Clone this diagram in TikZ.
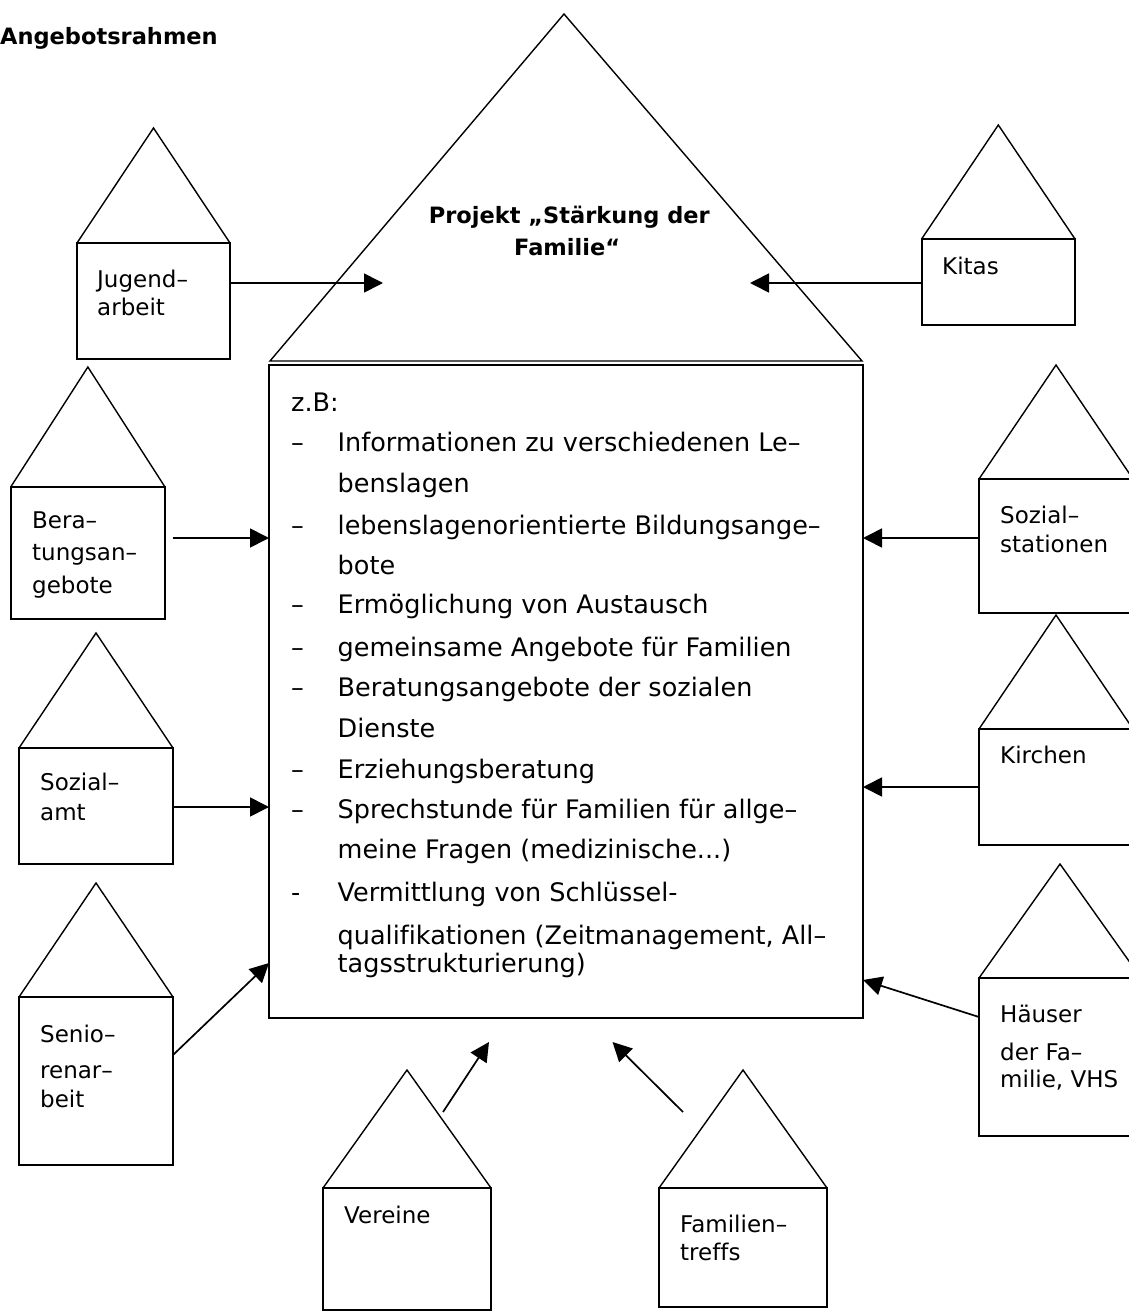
\documentclass[tikz,border=0pt]{standalone}
\usepackage{fontspec}
\setmainfont[Ligatures=NoCommon]{DejaVu Sans}
\usetikzlibrary{arrows.meta,calc}
\newcommand\myhouse[6]{%
  \node[hbox, anchor=north west, minimum width={(#3-#2)*1pt}, minimum height={(#6-#5)*1pt}] (#1) at (#2,#5) {};
  \draw[roof] (#2,#5) -- ({(#2+#3)/2},#4) -- (#3,#5);
}
\begin{document}
\begin{tikzpicture}[x=1pt,y=-1pt,
  roof/.style={draw, line width=1.4pt, line join=miter},
  hbox/.style={draw, line width=1.9pt, rectangle, inner sep=0pt, outer sep=0pt},
  lbl/.style={anchor=base west, inner sep=0pt, font=\fontsize{23}{27}\selectfont},
  itm/.style={anchor=base west, inner sep=0pt, font=\fontsize{25.5}{30}\selectfont},
  ttl/.style={anchor=base west, inner sep=0pt, font=\bfseries\fontsize{22.5}{27}\selectfont},
  arr/.style={-{Triangle[length=19pt,width=19pt]}, line width=1.7pt}]
\useasboundingbox (0,0) rectangle (1128,1316);

% title
\node[ttl] (title) at (0,45) {Angebotsrahmen};

% central house
\node[hbox, anchor=north west, minimum width=594pt, minimum height=653pt] (main) at (269,365) {};
\draw[roof] (270,361) -- (564,14) -- (862,361) -- cycle;
\node[ttl] (pr1) at (428.6,223) {Projekt „Stärkung der};
\node[ttl] (pr2) at (514,255) {Familie“};

% list
\node[itm] (zb) at (291,411) {z.B:};
\node[itm] (d1) at (291,451) {–};
\node[itm] (t1) at (337.5,451) {Informationen zu verschiedenen Le–};
\node[itm] (c1) at (337.5,492) {benslagen};
\node[itm] (d2) at (291,534) {–};
\node[itm] (t2) at (337.5,534) {lebenslagenorientierte Bildungsange–};
\node[itm] (c2) at (337.5,574) {bote};
\node[itm] (d3) at (291,613) {–};
\node[itm] (t3) at (337.5,613) {Ermöglichung von Austausch};
\node[itm] (d4) at (291,656) {–};
\node[itm] (t4) at (337.5,656) {gemeinsame Angebote für Familien};
\node[itm] (d5) at (291,696) {–};
\node[itm] (t5) at (337.5,696) {Beratungsangebote der sozialen};
\node[itm] (c5) at (337.5,737) {Dienste};
\node[itm] (d6) at (291,778) {–};
\node[itm] (t6) at (337.5,778) {Erziehungsberatung};
\node[itm] (d7) at (291,818) {–};
\node[itm] (t7) at (337.5,818) {Sprechstunde für Familien für allge–};
\node[itm] (c7) at (337.5,858) {meine Fragen (medizinische...)};
\node[itm] (d8) at (291,901) {-};
\node[itm] (t8) at (337.5,901) {Vermittlung von Schlüssel-};
\node[itm] (c8) at (337.5,944) {qualifikationen (Zeitmanagement, All–};
\node[itm] (c9) at (337.5,972) {tagsstrukturierung)};

% surrounding houses
\myhouse{jug}{77}{230}{128}{243}{359}
\myhouse{kit}{921.6}{1075}{125}{239}{325}
\myhouse{ber}{10.7}{165}{367}{487}{619}
\myhouse{soz}{19}{173}{633}{748}{864}
\myhouse{sen}{19}{173}{883}{997}{1165}
\myhouse{ver}{323}{491}{1070}{1188}{1310}
\myhouse{fam}{659}{827}{1070}{1188}{1307}
\myhouse{sst}{979}{1133}{365}{479}{613}
\myhouse{kir}{979}{1133}{615}{729}{845}
\myhouse{hau}{979}{1141}{864}{978}{1136}

% labels
\node[lbl] (jugA) at (97,287) {Jugend–};
\node[lbl] (jugB) at (97,315) {arbeit};
\node[lbl] (kitA) at (942,274) {Kitas};
\node[lbl] (berA) at (32,528) {Bera–};
\node[lbl] (berB) at (32,560) {tungsan–};
\node[lbl] (berC) at (32,593) {gebote};
\node[lbl] (sozA) at (40,790) {Sozial–};
\node[lbl] (sozB) at (40,820) {amt};
\node[lbl] (senA) at (40,1042) {Senio–};
\node[lbl] (senB) at (40,1078) {renar–};
\node[lbl] (senC) at (40,1107) {beit};
\node[lbl] (verA) at (344,1223) {Vereine};
\node[lbl] (famA) at (680,1232) {Familien–};
\node[lbl] (famB) at (680,1260) {treffs};
\node[lbl] (sstA) at (1000,523) {Sozial–};
\node[lbl] (sstB) at (1000,552) {stationen};
\node[lbl] (kirA) at (1000,763) {Kirchen};
\node[lbl] (hauA) at (1000,1022) {Häuser};
\node[lbl] (hauB) at (1000,1060) {der Fa–};
\node[lbl] (hauC) at (1000,1087) {milie, VHS};

% arrows
\coordinate (jt) at (383,283);
\coordinate (kt) at (750,283);
\coordinate (a1) at (172.5,538);
\coordinate (a2) at (268,807);
\coordinate (s1) at (173,1055);
\coordinate (s2) at (268,963);
\coordinate (v1) at (443,1112);
\coordinate (v2) at (489,1042);
\coordinate (f1) at (683,1112);
\coordinate (f2) at (612.5,1042);
\coordinate (h1) at (979,1017);
\coordinate (h2) at (864,980);
\coordinate (b1) at (979,538);
\coordinate (b2) at (979,787);
\draw[arr] (jug.east |- jt) -- (jt);
\draw[arr] (kit.west |- kt) -- (kt);
\draw[arr] (a1) -- (main.west |- a1);
\draw[arr] (soz.east |- a2) -- (main.west |- a2);
\draw[arr] (sen.east |- s1) -- (main.west |- s2);
\draw[arr] (v1) -- (v2);
\draw[arr] (f1) -- (f2);
\draw[arr] (hau.west |- h1) -- (main.east |- h2);
\draw[arr] (sst.west |- b1) -- (main.east |- b1);
\draw[arr] (kir.west |- b2) -- (main.east |- b2);
\end{tikzpicture}
\end{document}
